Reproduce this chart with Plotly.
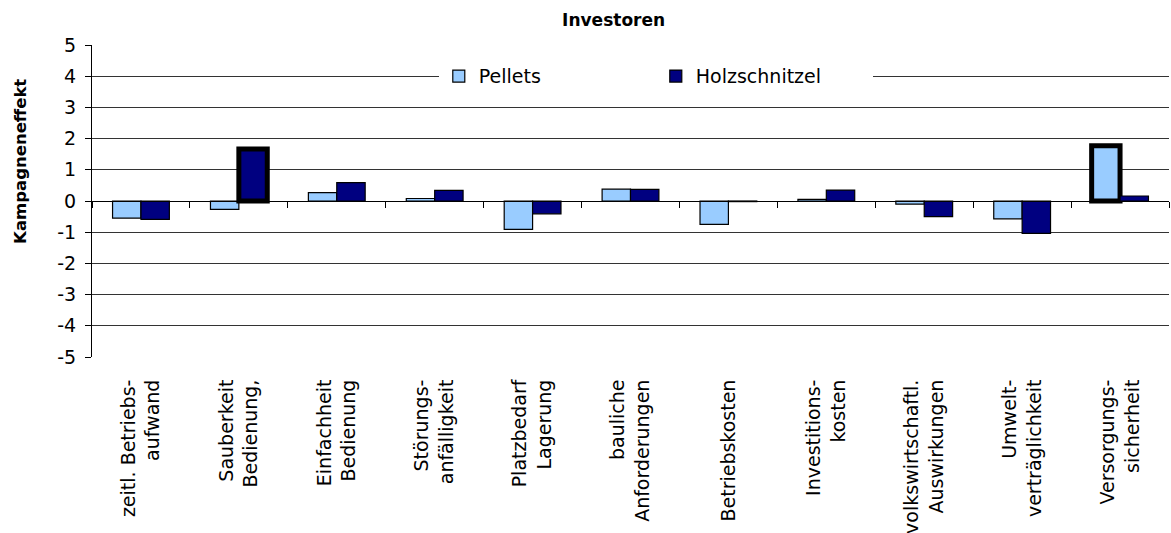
import plotly.graph_objects as go

categories = [
    'zeitl. Betriebs-<br>aufwand',
    'Sauberkeit<br>Bedienung,',
    'Einfachheit<br>Bedienung',
    'Störungs-<br>anfälligkeit',
    'Platzbedarf<br>Lagerung',
    'bauliche<br>Anforderungen',
    'Betriebskosten',
    'Investitions-<br>kosten',
    'volkswirtschaftl.<br>Auswirkungen',
    'Umwelt-<br>verträglichkeit',
    'Versorgungs-<br>sicherheit',
]
pellets = [-0.55, -0.27, 0.27, 0.08, -0.91, 0.38, -0.75, 0.05, -0.10, -0.57, 1.77]
holz = [-0.59, 1.67, 0.59, 0.34, -0.41, 0.37, -0.02, 0.35, -0.50, -1.04, 0.16]
# bars drawn with a heavy outline in the original
pellets_lw = [1.2] * 10 + [5]
holz_lw = [1.2, 5] + [1.2] * 9
y_ticks = [5, 4, 3, 2, 1, 0, -1, -2, -3, -4, -5]
y_labels = ['5', '4', '3', '2', '1', '0', '-1', '-2', '-3', '-4', '-5']

font = 'DejaVu Sans'

fig = go.Figure()
fig.add_trace(go.Bar(
    x=categories, y=pellets, name='Pellets',
    marker=dict(color='#99CCFF', line=dict(color='black', width=pellets_lw)),
))
fig.add_trace(go.Bar(
    x=categories, y=holz, name='Holzschnitzel',
    marker=dict(color='#000080', line=dict(color='black', width=holz_lw)),
))

fig.update_layout(
    template=None,
    width=1171, height=533,
    paper_bgcolor='white', plot_bgcolor='white',
    margin=dict(l=92, r=2, t=45, b=176),
    barmode='group', bargap=0.42, bargroupgap=0,
    font=dict(family=font, size=19, color='black'),
    title=dict(
        text='<b>Investoren</b>', font=dict(size=17),
        xref='container', x=0.524, xanchor='center',
        yref='container', y=0.962, yanchor='middle',
    ),
    legend=dict(
        orientation='h', bgcolor='white',
        x=0.322, xanchor='left', y=0.9, yanchor='middle',
        entrywidth=172, entrywidthmode='pixels',
        font=dict(size=19),
    ),
    # category axis sits on the zero line, labels pushed down below the plot
    xaxis=dict(
        type='category', anchor='free', position=0.5,
        tickson='boundaries', ticks='outside', ticklen=6, tickcolor='black',
        tickangle=-90, showgrid=False, automargin=False,
        showline=True, linecolor='black', linewidth=1, zeroline=False,
        ticklabelstandoff=170,
    ),
    yaxis=dict(
        range=[-5, 5], tickvals=y_ticks, ticktext=y_labels,
        showgrid=True, gridcolor='#333333', gridwidth=1, automargin=False,
        zeroline=False, showline=True, linecolor='black', linewidth=1,
        ticks='outside', ticklen=6, tickcolor='black',
        tickfont=dict(size=19), ticklabelstandoff=5,
    ),
    annotations=[dict(
        text='<b>Kampagneneffekt</b>', textangle=-90,
        xref='paper', yref='paper', x=-0.067, y=0.628,
        xanchor='center', yanchor='middle', showarrow=False,
        font=dict(size=16.5),
    )],
)

# drop the default page margin so the figure fills the window exactly
fig.write_html(
    'out.html',
    config={'displayModeBar': False},
    post_script="document.body.style.margin='0';",
)
